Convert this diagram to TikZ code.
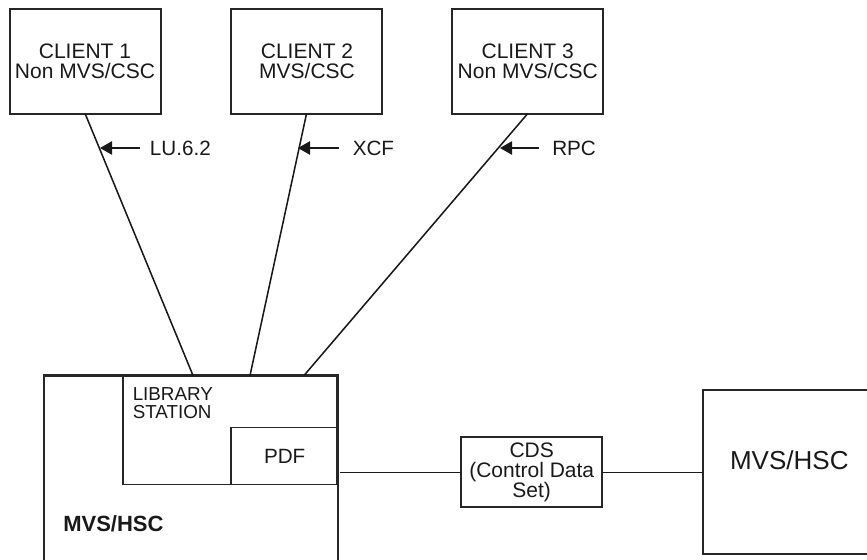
\documentclass[tikz,border=0pt]{standalone}
\usepackage{fontspec}
\setmainfont{Liberation Sans}
\usetikzlibrary{arrows.meta}
\tikzset{
  x=0.75pt,y=-0.75pt,
  boxnode/.style={draw=black!85,line width=1.6pt,rectangle,inner sep=0pt,outer sep=0pt,anchor=north west,align=center},
  thinbox/.style={draw=black!85,line width=1pt,rectangle,inner sep=0pt,outer sep=0pt,anchor=north west,align=center},
  wire/.style={draw=black!90,line width=1.15pt},
  pointer/.style={draw=black!90,line width=1pt,-{Triangle[length=9pt,width=10pt]}},
  clienttext/.style={font=\fontsize{15.75}{15.4}\selectfont,align=center,text=black!90},
  lbl/.style={font=\fontsize{15.5}{15.5}\selectfont,anchor=west,text=black!90},
}
\begin{document}
\begin{tikzpicture}
\useasboundingbox (0,0) rectangle (867,560);
\node[boxnode,minimum width=113.25pt,minimum height=78.75pt] (c1) at (9.7,8.8) {};
\node[clienttext] (c1t) at (85,61.5) {CLIENT 1\\Non MVS/CSC};
\node[boxnode,minimum width=113.25pt,minimum height=78.75pt] (c2) at (231,8.8) {};
\node[clienttext] (c2t) at (307,61.5) {CLIENT 2\\MVS/CSC};
\node[boxnode,minimum width=113.25pt,minimum height=78.75pt] (c3) at (452,8.8) {};
\node[clienttext] (c3t) at (527.7,61.5) {CLIENT 3\\Non MVS/CSC};
% main host box
\node[boxnode,minimum width=220.5pt,minimum height=141pt] (host) at (43.7,375.5) {};
\node[thinbox,minimum width=160.5pt,minimum height=81.5pt] (lib) at (123,375.5) {};
\node[thinbox,minimum width=79.5pt,minimum height=42.5pt] (pdf) at (231,427.7) {};
\node[font=\fontsize{15.5}{15.5}\selectfont,text=black!90] (pdft) at (284.7,456.5) {PDF};
\node[font=\fontsize{14.1}{13.6}\selectfont,align=left,anchor=north west,inner sep=0pt,text=black!90] (libt) at (132.5,387) {LIBRARY\\STATION};
\node[font=\bfseries\fontsize{16.5}{16.5}\selectfont,anchor=west,inner sep=0pt,text=black!90] (hostt) at (63,524) {MVS/HSC};
% CDS
\node[boxnode,minimum width=105.75pt,minimum height=52.5pt] (cds) at (460.7,436.8) {};
\node[font=\fontsize{15.75}{15.1}\selectfont,align=center,text=black!90] (cdst) at (531.7,472.5) {CDS\\(Control Data\\Set)};
% right host
\node[boxnode,minimum width=140pt,minimum height=123pt] (host2) at (703,390) {};
\node[font=\fontsize{19.5}{19.5}\selectfont,text=black!90] (host2t) at (789.3,460) {MVS/HSC};
% connectors
\coordinate (e1) at (193,375.5);
\coordinate (e2) at (250,375.5);
\coordinate (e3) at (304,375.5);
\coordinate (pdfout) at (340,472.3);
\draw[wire] (c1.south) -- (e1);
\draw[wire] (c2.south) -- (e2);
\draw[wire] (c3.south) -- (e3);
\draw[wire] (pdfout) -- (pdfout -| cds.west);
\draw[wire] (cds.east |- pdfout) -- (pdfout -| host2.west);
% pointers
\node[lbl,inner sep=0pt] (l1) at (149.7,148) {LU.6.2};
\node[lbl,inner sep=0pt] (l2) at (352.5,148) {XCF};
\node[lbl,inner sep=0pt] (l3) at (552,148) {RPC};
\coordinate (p1) at (100,148);
\coordinate (p2) at (298,148);
\coordinate (p3) at (500,148);
\draw[pointer] (l1.west) ++(-9.7,0) -- (p1);
\draw[pointer] (l2.west) ++(-13.5,0) -- (p2);
\draw[pointer] (l3.west) ++(-13,0) -- (p3);
\end{tikzpicture}
\end{document}
